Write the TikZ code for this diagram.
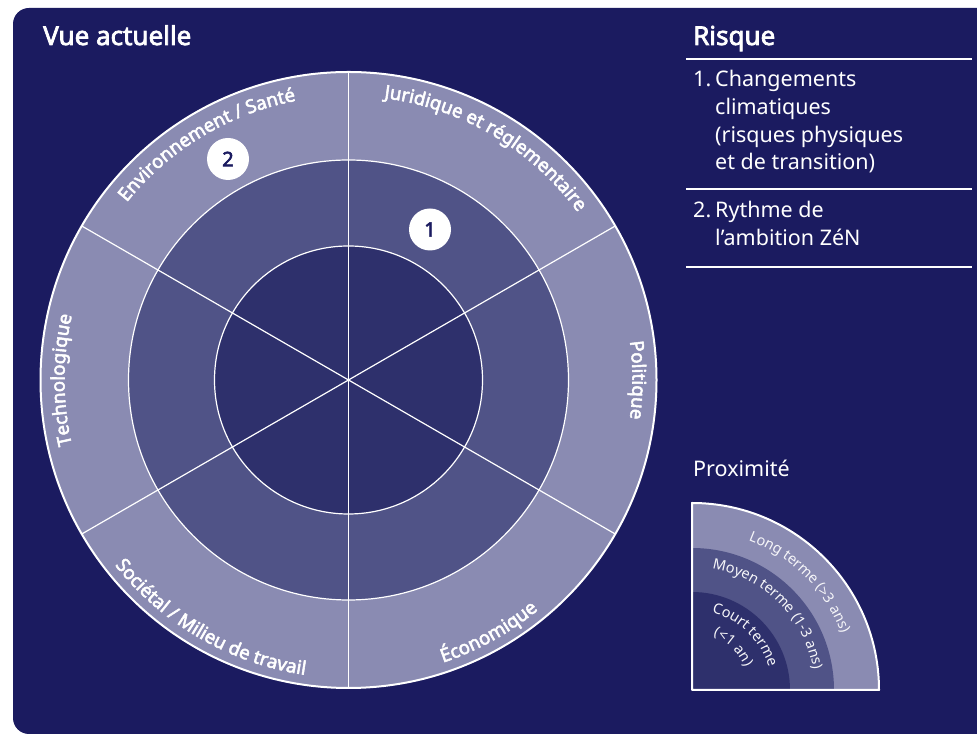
\documentclass[tikz,border=0pt]{standalone}
\usepackage{fontspec}
\setmainfont{Noto Sans}[AutoFakeBold=2.8]
\usetikzlibrary{decorations.text}
\definecolor{navy}{HTML}{1B1B60}
\definecolor{bandout}{HTML}{8A8BB2}
\definecolor{bandmid}{HTML}{505387}
\definecolor{bandin}{HTML}{2E306C}
\newcommand{\wheelfont}{\bfseries\fontsize{18.7}{18.7}\selectfont\color{white}}
\newcommand{\quadfont}{\fontsize{14.5}{14.5}\selectfont\color{white!92!bandout}}
\tikzset{
  cwlabel/.style={decorate, decoration={text along path, text align=center, text={|\wheelfont|#1}}},
  qlabel/.style={decorate, decoration={text along path, text align=center, text={|\quadfont|#1}}},
  badge/.style={circle, fill=white, minimum size=42pt, inner sep=0pt, text=navy, font=\bfseries\fontsize{20}{20}\selectfont},
  heading/.style={anchor=base west, inner sep=0pt, text=white, font=\bfseries\fontsize{26}{26}\selectfont},
  itemtext/.style={anchor=base west, inner sep=0pt, text=white, font=\fontsize{21.5}{21.5}\selectfont},
  rule/.style={white, line width=2pt},
  divider/.style={white, line width=1.2pt}
}
\begin{document}
\begin{tikzpicture}[x=1pt,y=1pt]
\useasboundingbox (0,0) rectangle (977,735);
\fill[white] (0,0) rectangle (977,735);
\fill[navy, rounded corners=16pt] (13,1) rectangle (1010,727);

% wheel
\coordinate (C) at (348.5,355);
\fill[bandout] (C) circle[radius=308];
\fill[bandmid] (C) circle[radius=220];
\fill[bandin] (C) circle[radius=134];
\draw[divider] (C) circle[radius=220];
\draw[divider] (C) circle[radius=134];
\foreach \a in {90,30,-30} \draw[divider] (C) ++(\a:308) -- ++(\a+180:616);
\draw[white, line width=2pt] (C) circle[radius=308];

% clockwise labels (tops outward)
\path[cwlabel={Environnement / Santé}] (C) ++(166:284) arc[start angle=166, end angle=76, radius=284];
\path[cwlabel={Juridique et réglementaire}] (C) ++(104.5:284) arc[start angle=104.5, end angle=14.5, radius=284];
\path[cwlabel={Politique}] (C) ++(45:284) arc[start angle=45, end angle=-45, radius=284];
\path[cwlabel={Technologique}] (C) ++(225:284) arc[start angle=225, end angle=135, radius=284];
% counter-clockwise labels (tops inward)
\path[cwlabel={Économique}] (C) ++(-106:298) arc[start angle=-106, end angle=-16, radius=298];
\path[cwlabel={Sociétal / Milieu de travail}] (C) ++(-165:298) arc[start angle=-165, end angle=-75, radius=298];

\node[badge] (b1) at (430,505.5) {1};
\node[badge] (b2) at (228,576) {2};

% titles
\node[heading] (title) at (43,690) {Vue actuelle};
\node[heading] (risque) at (693,690) {Risque};
\draw[rule] (686,676) -- (972,676);
\node[itemtext] (n1) at (693,648) {1.};
\node[itemtext] (l1a) at (715,648) {Changements};
\node[itemtext] (l1b) at (715,620) {climatiques};
\node[itemtext] (l1c) at (715,592.5) {(risques physiques};
\node[itemtext] (l1d) at (715,565) {et de transition)};
\draw[rule] (686,546) -- (972,546);
\node[itemtext] (n2) at (693,517) {2.};
\node[itemtext] (l2a) at (715,517) {Rythme de};
\node[itemtext] (l2b) at (715,489) {l’ambition ZéN};
\draw[rule] (686,468) -- (972,468);

% proximity legend
\node[itemtext] (prox) at (693,258) {Proximité};
\coordinate (Q) at (692,45);
\fill[bandout] (Q) -- ++(187,0) arc[start angle=0, end angle=90, radius=187] -- cycle;
\fill[bandmid] (Q) -- ++(142,0) arc[start angle=0, end angle=90, radius=142] -- cycle;
\fill[bandin] (Q) -- ++(98,0) arc[start angle=0, end angle=90, radius=98] -- cycle;
\draw[white, line width=2pt, line join=round] (Q) -- ++(187,0) arc[start angle=0, end angle=90, radius=187] -- cycle;
\path[qlabel={Long terme (>3 ans)}] (Q) ++(95:160) arc[start angle=95, end angle=-5, radius=160];
\path[qlabel={Moyen terme (1-3 ans)}] (Q) ++(95:123) arc[start angle=95, end angle=-5, radius=123];
\path[qlabel={Court terme}] (Q) ++(96:80) arc[start angle=96, end angle=-4, radius=80];
\path[qlabel={(<1 an)}] (Q) ++(96:58) arc[start angle=96, end angle=-4, radius=58];
\end{tikzpicture}
\end{document}
